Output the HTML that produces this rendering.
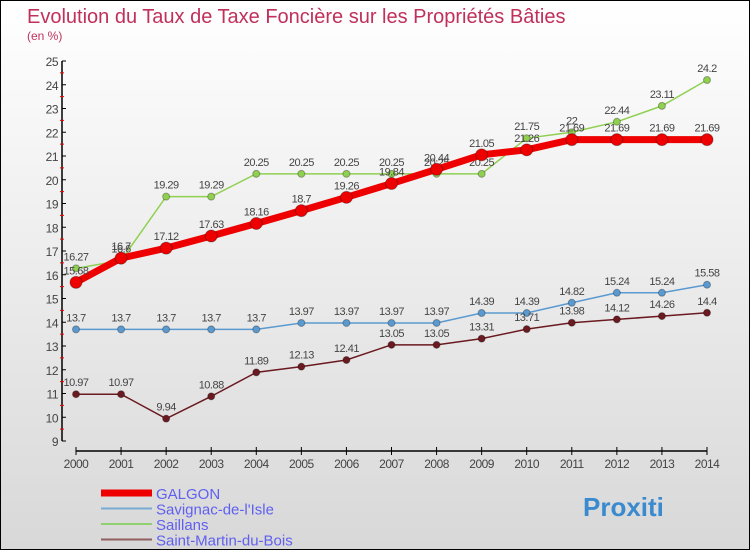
<!DOCTYPE html>
<html><head><meta charset="utf-8"><style>
body{margin:0}
#c{width:748px;height:548px;border:1px solid #000;background:linear-gradient(#fff,#d8d8d8);position:relative;font-family:"Liberation Sans",sans-serif}
svg{position:absolute;left:0;top:0}
</style></head><body>
<div id="c">
<svg id="s" width="750" height="550">
<text x="26" y="22" font-size="20" fill="#c0305a">Evolution du Taux de Taxe Foncière sur les Propriétés Bâties</text>
<text x="26" y="39" font-size="12" fill="#c0305a">(en %)</text>
</svg>
</div>
<script>
const years=[2000,2001,2002,2003,2004,2005,2006,2007,2008,2009,2010,2011,2012,2013,2014];
const galgon=[15.68,16.7,17.12,17.63,18.16,18.7,19.26,19.84,20.44,21.05,21.26,21.69,21.69,21.69,21.69];
const savignac=[13.7,13.7,13.7,13.7,13.7,13.97,13.97,13.97,13.97,14.39,14.39,14.82,15.24,15.24,15.58];
const saillans=[16.27,16.6,19.29,19.29,20.25,20.25,20.25,20.25,20.25,20.25,21.75,22,22.44,23.11,24.2];
const stmartin=[10.97,10.97,9.94,10.88,11.89,12.13,12.41,13.05,13.05,13.31,13.71,13.98,14.12,14.26,14.4];
const yTicks=[9,10,11,12,13,14,15,16,17,18,19,20,21,22,23,24,25];
const NS='http://www.w3.org/2000/svg';
const svg=document.getElementById('s');
const X=i=>75+i*(706-75)/(years.length-1);
const Y=v=>440-(v-9)*(380/16);
function mk(t,a,p){const e=document.createElementNS(NS,t);for(const k in a)e.setAttribute(k,a[k]);(p||svg).appendChild(e);return e;}
// axes
let ax=mk('line',{x1:61,y1:60,x2:61,y2:440,stroke:'#000','stroke-width':1.5});


let xa=mk('line',{x1:75,y1:450,x2:706,y2:450,stroke:'#000','stroke-width':1.5});


yTicks.forEach(v=>{
 mk('line',{x1:61,y1:Y(v),x2:65,y2:Y(v),stroke:'#000'});
 if(v<25)mk('line',{x1:59,y1:Y(v+0.5),x2:63,y2:Y(v+0.5),stroke:'#e00'});
 const t=mk('text',{x:57,y:Y(v)+5,'font-size':12,fill:'#444','text-anchor':'end','letter-spacing':'-0.5'});t.textContent=v;
 
 
});
years.forEach((y,i)=>{
 mk('line',{x1:X(i),y1:446,x2:X(i),y2:454,stroke:'#000'});
 const t=mk('text',{x:X(i),y:467,'font-size':12,fill:'#444','text-anchor':'middle','letter-spacing':'-0.5'});t.textContent=y;
 
 
});
function series(vals,color,w,r,name,labelColor){
 const g=mk('g',{});
 
 
 mk('polyline',{points:vals.map((v,i)=>X(i)+','+Y(v)).join(' '),fill:'none',stroke:color,'stroke-width':w},g);
 vals.forEach((v,i)=>{
  const c=mk('circle',{cx:X(i),cy:Y(v),r:r,fill:color,stroke:'rgba(0,0,0,0.3)'},g);
  
  
  const t=mk('text',{x:X(i),y:Y(v)-8,'font-size':11,fill:'#444','text-anchor':'middle','letter-spacing':'-0.5'},g);t.textContent=v;
 });
}
series(saillans,'#8fd050',1.5,3.5,'series-saillans');
series(savignac,'#5a9ad0',1.5,3.5,'series-savignac');
series(stmartin,'#6a1a20',1.5,3.5,'series-saint-martin');
series(galgon,'#ee0000',7,6,'series-galgon');
// legend
const leg=[['GALGON','#ee0000',7],['Savignac-de-l\'Isle','#7aaad0',2],['Saillans','#90d070',2],['Saint-Martin-du-Bois','#906060',2]];
leg.forEach((l,i)=>{
 const y=492+i*15.5;
 const g=mk('g',{});
 
 
 mk('line',{x1:100,y1:y,x2:151,y2:y,stroke:l[1],'stroke-width':l[2]},g);
 const t=mk('text',{x:155,y:y+6,'font-size':15,fill:'#6060f0'},g);t.textContent=l[0];
});
const lg=mk('text',{x:582,y:515,'font-size':26,'font-weight':'bold',fill:'#3a8ad0'});
lg.textContent='Proxiti';


</script>
</body></html>
